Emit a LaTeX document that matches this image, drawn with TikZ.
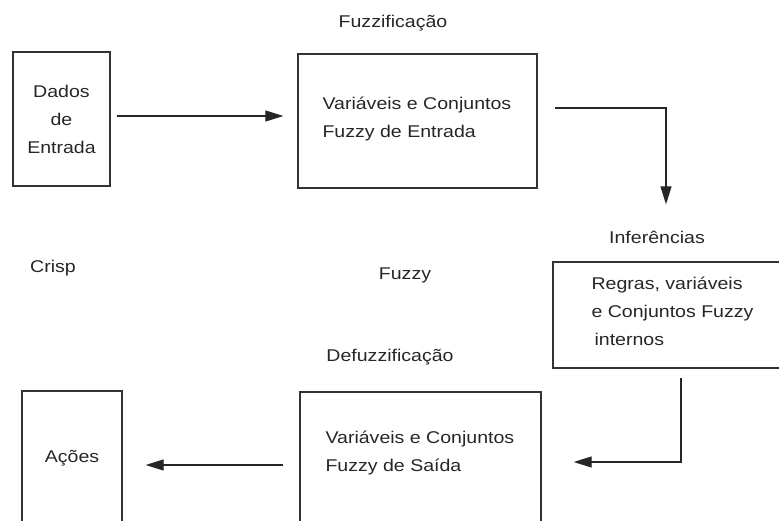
\documentclass[tikz,border=0pt]{standalone}
\usepackage{fontspec}
\setmainfont{Liberation Sans}[FakeStretch=1.15]
\usetikzlibrary{arrows.meta,calc}
\tikzset{
  caixa/.style={draw=black!80,line width=1.3pt,minimum height=134pt,align=center,text=black!85},
  texto/.style={align=left,anchor=west,inner sep=0pt,text=black!85},
  rotulo/.style={inner sep=0pt,text=black!85},
  seta/.style={draw=black!85,line width=1.1pt,-{Triangle[length=18pt,width=11pt]}}
}
\begin{document}
\begin{tikzpicture}[x=1pt,y=-1pt,font=\fontsize{17}{28}\selectfont]
     \useasboundingbox (0,0) rectangle (779,521);
     \clip (0,0) rectangle (779,521);
     % caixas
     \node[caixa,minimum width=97pt] (dados) at (61.5,119) {Dados\\de\\Entrada};
     \node[caixa,minimum width=239pt] (fuzz) at (417.5,121) {};
     \node[caixa,minimum width=250pt,minimum height=106pt] (infer) at (678,315) {};
     \node[caixa,minimum width=100pt] (acoes) at (72,458) {Ações};
     \node[caixa,minimum width=241pt] (defuzz) at (420.5,459) {};
     \node[texto] (fuzztxt) at ($(fuzz.west)+(25,-1.5)$) {Variáveis e Conjuntos\\Fuzzy de Entrada};
     \node[texto] (infertxt) at ($(infer.west)+(39,-3.5)$) {Regras, variáveis\\e Conjuntos Fuzzy\\\hspace*{3pt}internos};
     \node[texto] (defuzztxt) at ($(defuzz.west)+(26,-5.5)$) {Variáveis e Conjuntos\\Fuzzy de Saída};
     % rotulos
     \node[rotulo] (lfuzz) at (393,23) {Fuzzificação};
     \node[rotulo] (linfer) at (657,237) {Inferências};
     \node[rotulo] (lcrisp) at (53,268) {Crisp};
     \node[rotulo] (lfuzzy) at (405,275) {Fuzzy};
     \node[rotulo] (ldefuzz) at (390,357) {Defuzzificação};
     % setas
     \draw[seta] ($(dados.east)+(6,-3)$) -- ($(fuzz.west)+(-14,-5)$);
     \draw[seta] ($(fuzz.east)+(17,-13)$) -| ($(infer.north)+(-12,-57)$);
     \draw[seta] ($(infer.south)+(3,9)$) |- ($(defuzz.east)+(32,3)$);
     \draw[seta] ($(defuzz.west)+(-16,6)$) -- ($(acoes.east)+(23,7)$);
\end{tikzpicture}
\end{document}
